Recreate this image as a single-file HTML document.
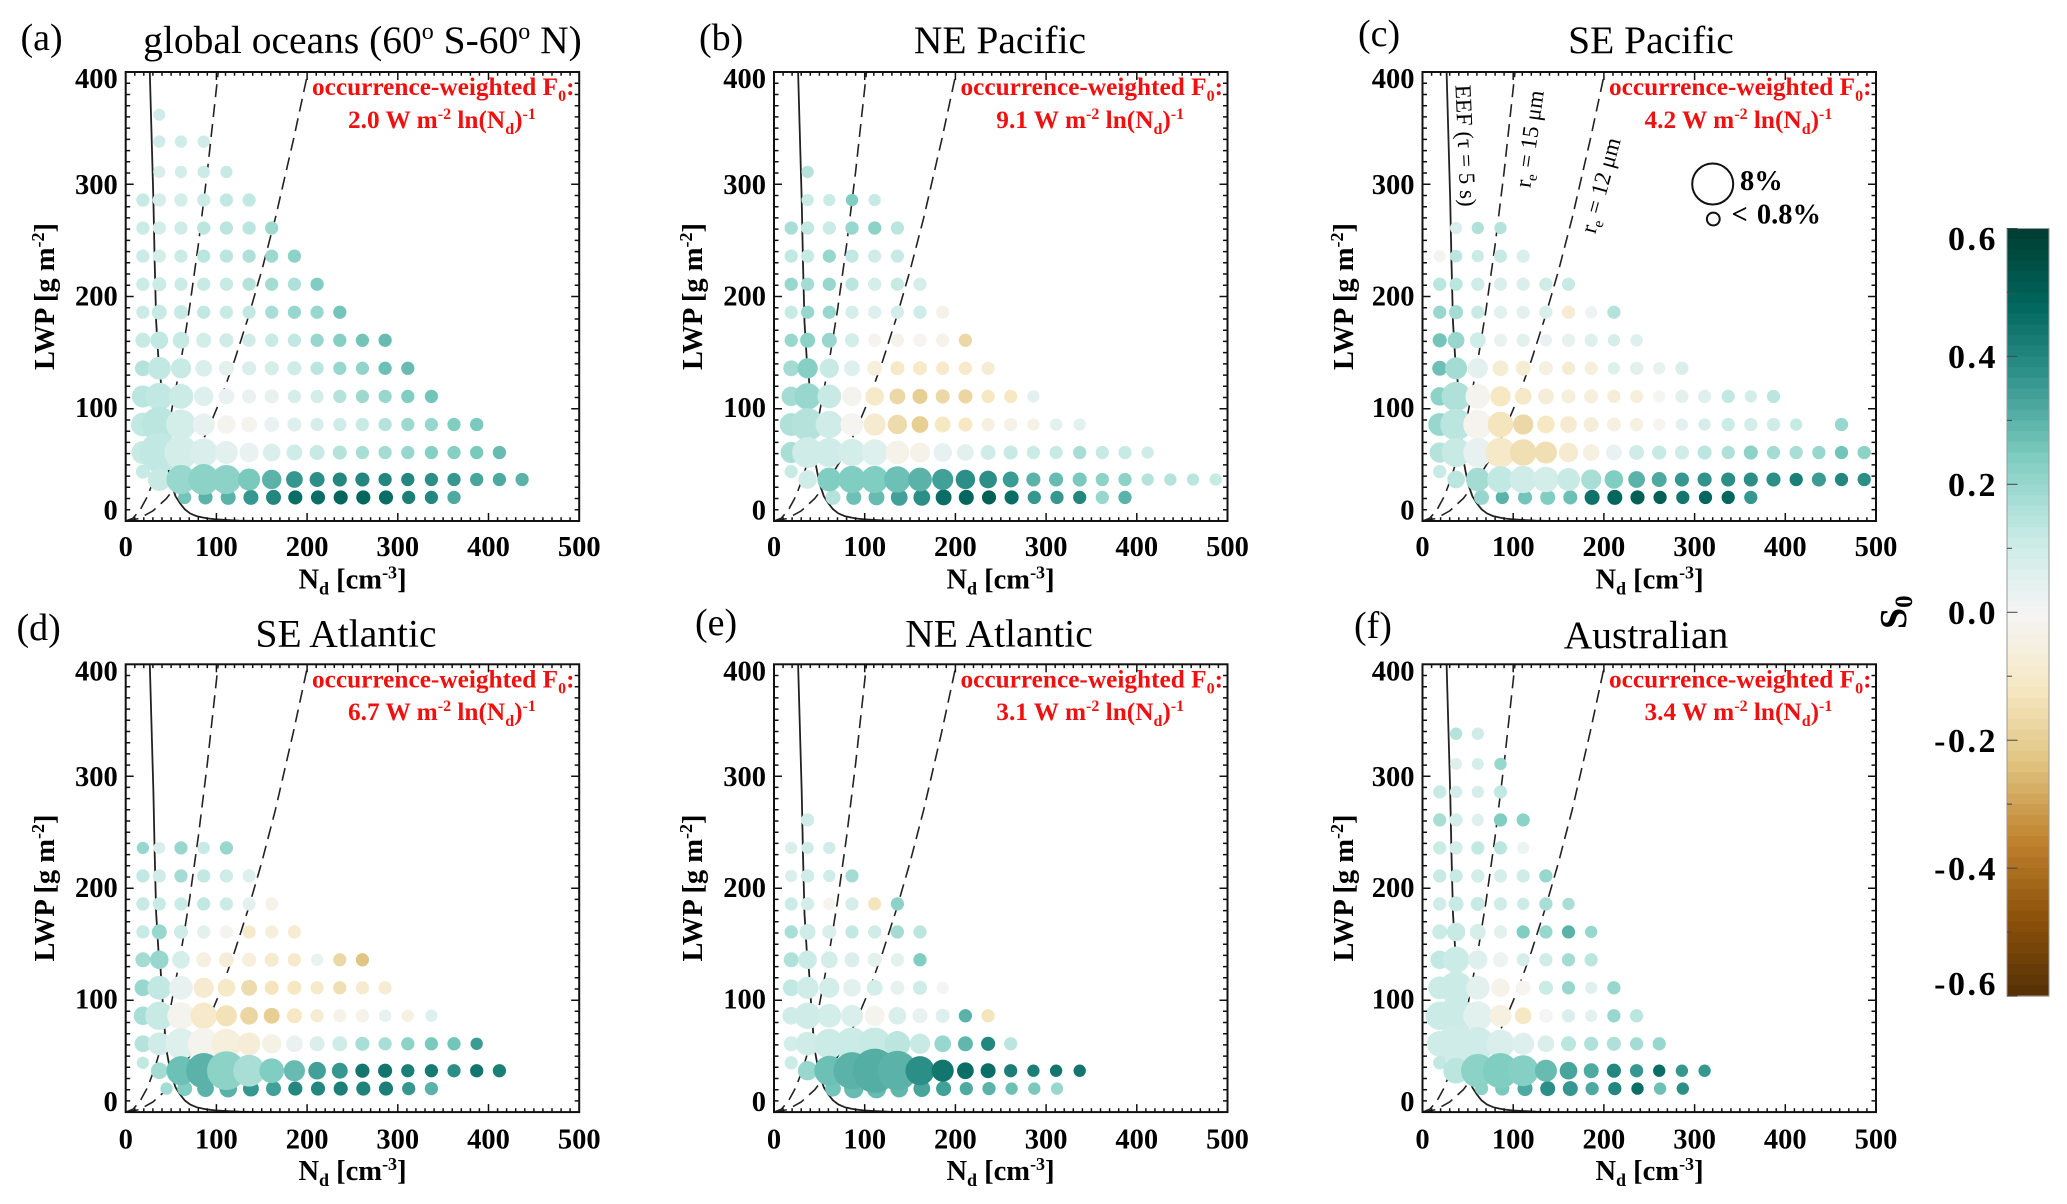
<!DOCTYPE html>
<html lang="en">
<head>
<meta charset="utf-8">
<title>S0 by LWP and Nd</title>
<style>
html,body{margin:0;padding:0;background:#fff;}
svg{display:block;}
text{font-family:"Liberation Serif","DejaVu Serif",serif;fill:#000;}
.title{font-size:39.5px;}
.letter{font-size:38px;}
.tick{font-size:28.5px;font-weight:bold;}
.axis{font-size:28.5px;font-weight:bold;}
.red{font-size:25.3px;font-weight:bold;fill:#f01010;}
.cb{font-size:34px;font-weight:bold;letter-spacing:2.5px;}
.ann{font-size:23px;}
.leg{font-size:28.5px;font-weight:bold;}
</style>
</head>
<body>
<svg id="figure" xmlns="http://www.w3.org/2000/svg" width="2067" height="1204" viewBox="0 0 2067 1204">
<rect width="2067" height="1204" fill="#fff"/>

<g>
<text class="letter" x="20.5" y="49.8">(a)</text>
<text class="letter" x="699" y="49.8">(b)</text>
<text class="letter" x="1358" y="46">(c)</text>
<text class="letter" x="16.5" y="640">(d)</text>
<text class="letter" x="695" y="635">(e)</text>
<text class="letter" x="1354" y="638">(f)</text>
</g>

<g text-anchor="middle">
<text class="title" x="362.5" y="52.8">global oceans (60<tspan dy="-14" font-size="24">o</tspan><tspan dy="14"> S-60</tspan><tspan dy="-14" font-size="24">o</tspan><tspan dy="14"> N)</tspan></text>
<text class="title" x="1000" y="52.8">NE Pacific</text>
<text class="title" x="1651" y="52.8">SE Pacific</text>
<text class="title" x="346" y="646.7">SE Atlantic</text>
<text class="title" x="999" y="646.7">NE Atlantic</text>
<text class="title" x="1646" y="647.8">Australian</text>
</g>

<g id="panel-a" transform="translate(125.7,72)"></g>
<g id="panel-b" transform="translate(774,72)"></g>
<g id="panel-c" transform="translate(1422.5,72)"></g>
<g id="panel-d" transform="translate(125.7,664.3)"></g>
<g id="panel-e" transform="translate(774,664.3)"></g>
<g id="panel-f" transform="translate(1422.5,664.3)"></g>

<g class="axis" text-anchor="middle">
<text class="axis" x="352.5" y="588.6">N<tspan dy="6" font-size="18">d</tspan><tspan dy="-6"> [cm</tspan><tspan dy="-10" font-size="18">-3</tspan><tspan dy="10">]</tspan></text>
<text class="axis" x="1000.5" y="588.6">N<tspan dy="6" font-size="18">d</tspan><tspan dy="-6"> [cm</tspan><tspan dy="-10" font-size="18">-3</tspan><tspan dy="10">]</tspan></text>
<text class="axis" x="1649.5" y="588.6">N<tspan dy="6" font-size="18">d</tspan><tspan dy="-6"> [cm</tspan><tspan dy="-10" font-size="18">-3</tspan><tspan dy="10">]</tspan></text>
<text class="axis" x="352.5" y="1179.8">N<tspan dy="6" font-size="18">d</tspan><tspan dy="-6"> [cm</tspan><tspan dy="-10" font-size="18">-3</tspan><tspan dy="10">]</tspan></text>
<text class="axis" x="1000.5" y="1179.8">N<tspan dy="6" font-size="18">d</tspan><tspan dy="-6"> [cm</tspan><tspan dy="-10" font-size="18">-3</tspan><tspan dy="10">]</tspan></text>
<text class="axis" x="1649.5" y="1179.8">N<tspan dy="6" font-size="18">d</tspan><tspan dy="-6"> [cm</tspan><tspan dy="-10" font-size="18">-3</tspan><tspan dy="10">]</tspan></text>
</g>

<g text-anchor="middle">
<text class="axis" transform="translate(54,296.5) rotate(-90)">LWP [g m<tspan dy="-10" font-size="18">-2</tspan><tspan dy="10">]</tspan></text>
<text class="axis" transform="translate(702,296.5) rotate(-90)">LWP [g m<tspan dy="-10" font-size="18">-2</tspan><tspan dy="10">]</tspan></text>
<text class="axis" transform="translate(1353,296.5) rotate(-90)">LWP [g m<tspan dy="-10" font-size="18">-2</tspan><tspan dy="10">]</tspan></text>
<text class="axis" transform="translate(54,888) rotate(-90)">LWP [g m<tspan dy="-10" font-size="18">-2</tspan><tspan dy="10">]</tspan></text>
<text class="axis" transform="translate(702,888) rotate(-90)">LWP [g m<tspan dy="-10" font-size="18">-2</tspan><tspan dy="10">]</tspan></text>
<text class="axis" transform="translate(1353,888) rotate(-90)">LWP [g m<tspan dy="-10" font-size="18">-2</tspan><tspan dy="10">]</tspan></text>
</g>

<g id="forcing">
<text class="red" x="312" y="94.9">occurrence-weighted F<tspan dy="6" font-size="16">0</tspan><tspan dy="-6">:</tspan></text>
<text class="red" x="348" y="128.2">2.0 W m<tspan dy="-9" font-size="16">-2</tspan><tspan dy="9"> ln(N</tspan><tspan dy="6" font-size="16">d</tspan><tspan dy="-6">)</tspan><tspan dy="-9" font-size="16">-1</tspan></text>
<text class="red" x="960.5" y="94.9">occurrence-weighted F<tspan dy="6" font-size="16">0</tspan><tspan dy="-6">:</tspan></text>
<text class="red" x="996.3" y="128.2">9.1 W m<tspan dy="-9" font-size="16">-2</tspan><tspan dy="9"> ln(N</tspan><tspan dy="6" font-size="16">d</tspan><tspan dy="-6">)</tspan><tspan dy="-9" font-size="16">-1</tspan></text>
<text class="red" x="1609" y="94.9">occurrence-weighted F<tspan dy="6" font-size="16">0</tspan><tspan dy="-6">:</tspan></text>
<text class="red" x="1644.5" y="128.2">4.2 W m<tspan dy="-9" font-size="16">-2</tspan><tspan dy="9"> ln(N</tspan><tspan dy="6" font-size="16">d</tspan><tspan dy="-6">)</tspan><tspan dy="-9" font-size="16">-1</tspan></text>
<text class="red" x="312" y="687.3">occurrence-weighted F<tspan dy="6" font-size="16">0</tspan><tspan dy="-6">:</tspan></text>
<text class="red" x="348" y="719.8">6.7 W m<tspan dy="-9" font-size="16">-2</tspan><tspan dy="9"> ln(N</tspan><tspan dy="6" font-size="16">d</tspan><tspan dy="-6">)</tspan><tspan dy="-9" font-size="16">-1</tspan></text>
<text class="red" x="960.5" y="687.3">occurrence-weighted F<tspan dy="6" font-size="16">0</tspan><tspan dy="-6">:</tspan></text>
<text class="red" x="996.3" y="719.8">3.1 W m<tspan dy="-9" font-size="16">-2</tspan><tspan dy="9"> ln(N</tspan><tspan dy="6" font-size="16">d</tspan><tspan dy="-6">)</tspan><tspan dy="-9" font-size="16">-1</tspan></text>
<text class="red" x="1609" y="687.3">occurrence-weighted F<tspan dy="6" font-size="16">0</tspan><tspan dy="-6">:</tspan></text>
<text class="red" x="1644.5" y="719.8">3.4 W m<tspan dy="-9" font-size="16">-2</tspan><tspan dy="9"> ln(N</tspan><tspan dy="6" font-size="16">d</tspan><tspan dy="-6">)</tspan><tspan dy="-9" font-size="16">-1</tspan></text>
</g>

<g text-anchor="middle">
<text class="ann" transform="translate(1458,146) rotate(87.5)">EEF (τ = 5 s)</text>
<text class="ann" transform="translate(1537,140) rotate(-82)">r<tspan dy="5" font-size="15">e</tspan><tspan dy="-5"> = 15 μm</tspan></text>
<text class="ann" transform="translate(1608,187.3) rotate(-74.7)">r<tspan dy="5" font-size="15">e</tspan><tspan dy="-5"> = 12 μm</tspan></text>
</g>

<g>
<circle cx="1712.7" cy="184" r="20.5" fill="none" stroke="#111" stroke-width="2"/>
<circle cx="1713.3" cy="219" r="6.4" fill="none" stroke="#111" stroke-width="2"/>
<text class="leg" x="1740" y="190">8%</text>
<text class="leg" x="1731.5" y="223.5" word-spacing="2">&lt; 0.8%</text>
</g>

<g id="colorbar"></g>
<text font-size="38" font-weight="bold" transform="translate(1906,629) rotate(-90)">S<tspan dy="6" font-size="25">0</tspan></text>
</svg>

<script>
const n = null;

const ndBins = [19,37,61,86,111,136,161,186,211,236,261,286,311,337,362,387,412,437,462,487];
const ndBinsLowestRow = [19,45,65,88,113,138,163,187,212,237,262,287,312,337,362,387];
const lwpBins = [21,37,61,86,111,136,161,186,211,236,261,286,311,338,362];
const lwpSecondRowFirstBin = 44;

const s0PanelA = [
[n,n,.26,.3,.3,.36,.4,.46,.46,.48,.48,.46,.42,.4,.32],
[.12,.12,.2,.22,.22,.25,.3,.36,.38,.4,.4,.4,.4,.38,.36,.33,.32,.3],
[.12,.13,.09,.07,.05,.03,.07,.1,.12,.15,.17,.18,.2,.23,.23,.25,.28],
[.13,.14,.09,.04,-.02,-.02,.03,.06,.08,.1,.12,.15,.19,.2,.24,.25],
[.14,.13,.11,.06,.03,.03,.04,.08,.09,.15,.19,.2,.24,.26],
[.15,.13,.12,.07,.05,.07,.08,.1,.14,.2,.21,.27,.28],
[.12,.13,.12,.09,.1,.1,.12,.13,.2,.23,.26,.28],
[.11,.12,.12,.13,.12,.13,.17,.2,.2,.26],
[.11,.11,.11,.12,.12,.15,.18,.16,.24],
[.11,.09,.11,.14,.14,.16,.19,.22],
[.11,.09,.1,.14,.14,.14,.19],
[.12,.08,.09,.11,.13,.13],
[n,.07,.09,.11,.12],
[n,.1,.1,.1],
[n,.1]
];
const occPanelA = [
[n,n,.67,.76,.86,.86,.86,.76,.76,.76,.76,.76,.67,.67,.67],
[.76,2,3.23,3.64,3.23,1.86,1.44,1.07,.86,.76,.76,.67,.67,.67,.67,.67,.67,.67],
[2,6,4.29,3.04,2,1.44,1.19,.96,.86,.76,.67,.67,.67,.67,.67,.67,.67],
[2.16,4.75,3.43,1.86,1.31,.96,.86,.76,.67,.67,.67,.67,.67,.67,.67,.67],
[1.86,2.85,2.33,1.44,.96,.76,.76,.67,.67,.67,.67,.67,.67,.67],
[.96,2,1.57,1.07,.86,.76,.76,.76,.67,.67,.67,.67,.67],
[.86,1.19,1.07,.86,.76,.67,.67,.67,.67,.67,.67,.67],
[.67,.86,.76,.67,.67,.67,.67,.67,.67,.67],
[.67,.76,.67,.67,.67,.67,.67,.67,.67],
[.67,.67,.67,.67,.67,.67,.67,.67],
[.67,.67,.67,.67,.67,.67,.67],
[.67,.67,.67,.67,.67,.67],
[n,.58,.58,.58,.58],
[n,.58,.58,.58],
[n,.55]
];

const s0PanelB = [
[n,n,.15,.27,.28,.34,.38,.46,.48,.5,.46,.36,.36,.4,.2,.3],
[.12,.1,.24,.24,.24,.27,.3,.34,.38,.38,.35,.3,.28,.25,.22,.22,.15,.15,.14,.12],
[.17,.1,.1,.09,.06,-.03,-.03,.04,.05,.1,.12,.11,.12,.17,.12,.12,.1],
[.16,.15,.1,-.01,-.09,-.16,-.2,-.12,-.12,-.05,-.04,-.04,.05,.05],
[.18,.2,.12,-.02,-.1,-.17,-.2,-.17,-.18,-.12,-.12,.05],
[.18,.23,.12,.06,-.06,-.11,-.1,-.1,-.1,-.08],
[.2,.22,.2,.09,-.02,-.03,-.01,-.03,-.17],
[.12,.2,.2,.08,.06,.09,.1,-.03],
[.2,.18,.2,.14,.08,.12,.08],
[.13,.12,.2,.13,.1,.12],
[.17,.13,.11,.2,.22,.14],
[n,.11,.11,.24,.12],
[n,.15]
];
const occPanelB = [
[n,n,.86,.86,.96,1.07,1.07,.96,.86,.76,.76,.67,.67,.67,.67,.67],
[.67,1.31,2.16,2.85,2.85,2.67,2.16,1.71,1.44,1.19,.96,.76,.76,.76,.67,.67,.58,.58,.58,.58],
[1.71,3.64,3.23,2.85,2.67,2.16,1.57,1.31,1.07,.86,.76,.67,.67,.67,.67,.67,.58],
[2,4.07,2.85,2,1.86,1.44,1.07,.96,.76,.67,.67,.58,.58,.58],
[1.44,2.67,2.16,1.44,1.31,.96,.86,.76,.76,.67,.67,.58],
[.96,1.57,1.44,.96,.86,.76,.76,.67,.67,.67],
[.67,.86,.86,.76,.67,.67,.67,.67,.67],
[.67,.67,.67,.67,.67,.67,.67,.67],
[.67,.67,.67,.67,.67,.67,.67],
[.67,.67,.67,.67,.67,.67],
[.67,.67,.67,.67,.67,.67],
[n,.58,.58,.58,.58],
[n,.58]
];

const s0PanelC = [
[n,n,.2,.3,.26,.24,.27,.45,.48,.5,.5,.44,.48,.48,.36],
[.12,.14,.18,.13,.1,.09,.12,.17,.24,.3,.32,.36,.37,.38,.38,.38,.42,.35,.4,.38],
[.15,.12,.04,-.11,-.15,-.15,-.09,-.05,.03,.1,.12,.1,.14,.16,.22,.18,.17,.2,.26,.22],
[.2,.14,-.02,-.13,-.17,-.12,-.09,-.07,-.05,-.05,-.01,.05,.08,.11,.09,.1,.12,n,.2],
[.22,.16,-.02,-.12,-.11,-.07,-.06,-.06,-.07,-.06,-.01,.05,.06,.13,.09,.14],
[.27,.18,.05,-.08,-.08,-.05,-.08,-.06,.06,.05,.04,.07],
[.26,.2,.1,.03,.05,.03,.04,.06,.08,.06],
[.2,.18,.12,.05,.05,.07,-.08,.02,.15],
[.14,.14,.1,.07,.07,.1,.12],
[-.02,.14,.11,.12,.07],
[n,.07,.16,.15]
];
const occPanelC = [
[n,n,.86,.67,.76,.86,.76,.86,.86,.76,.67,.67,.67,.67,.67],
[.67,1.19,2.16,2.67,2.85,2.5,2,1.57,1.31,1.07,.86,.76,.76,.76,.76,.76,.67,.76,.67,.67],
[1.57,3.23,3.23,3.43,2.67,1.86,1.44,1.07,.96,.86,.76,.76,.76,.67,.76,.67,.67,.67,.67,.67],
[2,3.85,3.23,2.5,1.57,1.19,1.07,.86,.76,.67,.58,.58,.58,.67,.67,.67,.58,n,.67],
[1.31,3.23,2.33,1.57,1.07,.96,.76,.76,.67,.67,.58,.67,.67,.67,.58,.67],
[.86,1.86,1.57,.96,.86,.76,.67,.67,.58,.67,.58,.67],
[.76,1.07,.96,.67,.67,.58,.67,.67,.58,.58],
[.67,.76,.67,.67,.67,.67,.67,.58,.67],
[.67,.67,.67,.67,.67,.67,.67],
[.58,.58,.58,.67,.67],
[n,.58,.58,.58]
];

const s0PanelD = [
[n,.18,.24,.3,.3,.36,.34,.4,.4,.42,.41,.42,.36,.3],
[.13,.18,.27,.3,.22,.17,.24,.28,.34,.36,.44,.44,.42,.43,.38,.44,.42],
[.15,.1,.06,-.02,-.06,-.07,-.04,.03,.07,.1,.17,.17,.22,.25,.26,.35],
[.17,.12,-.02,-.1,-.14,-.18,-.2,-.12,-.08,-.03,-.03,.04,-.05,.06],
[.2,.13,.04,-.09,-.11,-.16,-.13,-.12,-.1,-.15,-.09,-.08],
[.18,.2,.08,-.05,-.07,-.06,-.09,-.1,.03,-.17,-.23],
[.12,.2,.1,.05,-.02,-.1,-.06,-.08],
[.12,.12,.11,.13,.11,.05,-.03],
[.13,.1,.18,.13,.1,.06],
[.2,.07,.2,.12,.2]
];
const occPanelD = [
[n,.58,.86,1.07,1.19,.96,.86,.76,.76,.76,.76,.76,.67,.67],
[.58,1.07,3.23,4.75,5.75,3.85,2.33,1.71,1.19,.96,.76,.76,.67,.67,.67,.67,.67],
[1.07,2,3.64,3.85,3.43,2,1.44,1.07,.86,.86,.76,.67,.67,.67,.67,.58],
[1.31,3.04,2.85,2.67,1.71,1.19,.96,.86,.67,.67,.67,.58,.58,.58],
[1.07,2.16,2.16,1.57,1.19,.96,.76,.76,.67,.67,.67,.67],
[.86,1.31,1.19,.86,.86,.76,.76,.67,.58,.67,.67],
[.67,.86,.76,.67,.67,.67,.67,.67],
[.67,.67,.67,.67,.67,.67,.67],
[.67,.67,.67,.67,.67,.67],
[.58,.55,.67,.58,.67]
];

const s0PanelE = [
[n,n,.26,.28,.28,.29,.33,.34,.32,.3,.27,.25,.2],
[.11,.2,.27,.3,.31,.3,.38,.44,.46,.46,.42,.42,.44,.44],
[.09,.1,.11,.11,.12,.14,.12,.2,.29,.4,.14],
[.1,.1,.09,.07,-.02,.07,.04,.06,.3,-.13],
[.13,.1,.09,.05,.08,.04,.1,-.01],
[.16,.11,.09,.07,.05,.05,.24],
[.17,.1,.07,.13,.1,.18,.14],
[.11,.09,-.01,.08,-.13,.22],
[.07,.1,.1,.18],
[.07,.1,.1],
[n,.1]
];
const occPanelE = [
[n,n,.96,1.44,1.44,1.19,1.07,.86,.67,.67,.58,.58,.58],
[.67,1.44,3.43,5.24,7.42,6,3.23,1.86,1.07,.86,.67,.58,.58,.58],
[.86,2.16,3.43,4.07,4.07,2.5,1.57,1.07,.86,.76,.67],
[1.19,2.67,2.16,1.86,1.57,1.19,.86,.76,.67,.67],
[1.07,1.86,1.57,1.19,.96,.76,.76,.58],
[.86,1.31,1.07,.86,.76,.67,.67],
[.67,.96,.76,.67,.67,.67,.67],
[.67,.67,.58,.67,.67,.67],
[.58,.67,.58,.67],
[.58,.58,.58],
[n,.67]
];

const s0PanelF = [
[n,n,.22,.25,.32,.38,.36,.32,.4,.46,.27,.38],
[.13,.14,.22,.24,.23,.28,.33,.32,.4,.36,.46,.36,.36],
[.1,.1,.1,.07,.06,.07,.14,.16,.16,.18,.2],
[.11,.11,.05,-.05,-.12,0,.07,.05,.2,.14],
[.11,.11,.05,-.03,-.01,.11,.2,.06,.2],
[.13,.11,.06,.02,.08,.1,.18,.14],
[.11,.12,.08,.05,.24,.2,.3,.2],
[.1,.12,.12,.1,.11,.17,.17],
[.12,.12,.09,.08,.1,.2],
[.11,.09,.13,.14,.02],
[.17,.08,.06,.24,.22],
[.12,.09,.08,.13],
[n,.06,.08,.2],
[n,.15,.1]
];
const occPanelF = [
[n,n,.67,.76,.86,.86,.86,.67,.67,.58,.58,.58],
[.67,2.5,4.29,4.75,3.64,1.86,1.19,.86,.76,.67,.58,.58,.58],
[2.5,5.75,4.29,3.04,1.86,1.07,.86,.76,.76,.67,.67],
[3.04,5.24,3.23,1.86,1.07,.76,.67,.58,.67,.67],
[2,4.07,2.16,1.31,.86,.76,.67,.58,.67],
[1.31,2.67,1.44,.86,.67,.67,.67,.67],
[.86,1.31,.96,.67,.67,.67,.67,.58],
[.67,.86,.76,.67,.58,.67,.58],
[.67,.67,.67,.67,.67,.67],
[.67,.67,.67,.67,.58],
[.67,.67,.58,.67,.67],
[.67,.58,.58,.67],
[n,.55,.55,.58],
[n,.58,.58]
];

const s0ByPanel = {a:s0PanelA,b:s0PanelB,c:s0PanelC,d:s0PanelD,e:s0PanelE,f:s0PanelF};
const occByPanel = {a:occPanelA,b:occPanelB,c:occPanelC,d:occPanelD,e:occPanelE,f:occPanelF};

const eefNd  = [26.6,29,30.5,32,33.6,36,38,41,44.5,47.5,50.7,55,60,65,71,78,85.6,92,99,110,125,145];
const eefLwp = [400,330,286,230,177,145,133,95,57,44,32,22,15.7,10.5,6.8,4.4,3,2.1,1.5,1,.4,0];
const re15Nd  = [0,8,16,24,32,40,50,60,70,80,90,102];
const re15Lwp = [0,2.5,10,22,39,61,96,138,188,246,311,400];
const re12Nd  = [0,15,30,45,60,75,90,105,120,135,150,165,185,201];
const re12Lwp = [0,2.2,9,20,36,56,80,109,143,181,223,270,340,400];

const xTickValues = [0,100,200,300,400,500];
const yTickValues = [0,100,200,300,400];
const xTickLabels = ['0','100','200','300','400','500'];
const yTickLabels = ['0','100','200','300','400'];

const cbTickValues = [.6,.4,.2,0,-.2,-.4,-.6];
const cbTickLabels = ['0.6','0.4','0.2','0.0','-0.2','-0.4','-0.6'];
const colorStopValues = [-.6,-.48,-.36,-.24,-.12,0,.12,.24,.36,.48,.6];
const colorStopHex = ['#543005','#8c510a','#bf812d','#dfc27d','#f6e8c3','#f5f5f5','#c7eae5','#80cdc1','#35978f','#01665e','#003c30'];

const NS = 'http://www.w3.org/2000/svg';
const panelIds = ['a','b','c','d','e','f'];
const panelW = 453.5;
const panelHeights = {a:449,b:449,c:449,d:447.8,e:447.8,f:447.8};
const yLabelNudge = {0:-1.3,100:8.3,200:8.9,300:9.75,400:16};
const occToDiameter = 16.2;

function hexToRgb(h){return [1,3,5].map(function(i){return parseInt(h.substr(i,2),16);});}
function colorFor(s){
  const vals = colorStopValues;
  if(s<=vals[0]) return colorStopHex[0];
  for(let i=1;i<vals.length;i++){
    if(s<=vals[i]){
      const t=(s-vals[i-1])/(vals[i]-vals[i-1]);
      const a=hexToRgb(colorStopHex[i-1]),b=hexToRgb(colorStopHex[i]);
      return 'rgb('+a.map(function(v,k){return Math.round(v+(b[k]-v)*t);}).join(',')+')';
    }
  }
  return colorStopHex[colorStopHex.length-1];
}
function mk(tag,attrs,parent){
  const e=document.createElementNS(NS,tag);
  Object.keys(attrs).forEach(function(k){e.setAttribute(k,attrs[k]);});
  parent.appendChild(e);
  return e;
}

panelIds.forEach(function(id){
  const g=document.getElementById('panel-'+id);
  const h=panelHeights[id];
  const xs=function(v){return v/500*panelW;};
  const ys=function(v){return h*(1-v/400);};
  const linePts=function(xa,ya){return xa.map(function(v,i){return xs(v).toFixed(1)+','+ys(ya[i]).toFixed(1);}).join(' ');};

  const eef=mk('polyline',{points:linePts(eefNd,eefLwp),fill:'none',stroke:'#222','stroke-width':1.8},g);
  
  
  const re15=mk('polyline',{points:linePts(re15Nd,re15Lwp),fill:'none',stroke:'#222','stroke-width':1.6,'stroke-dasharray':'13 7'},g);
  
  
  const re12=mk('polyline',{points:linePts(re12Nd,re12Lwp),fill:'none',stroke:'#222','stroke-width':1.6,'stroke-dasharray':'13 7'},g);
  
  

  const s0=s0ByPanel[id], occ=occByPanel[id];
  const order=[];
  for(let r=s0.length-1;r>=2;r--) order.push(r);
  order.push(0,1);
  order.forEach(function(r){
    s0[r].forEach(function(v,c){
      if(v===null||occ[r][c]===null) return;
      const nd=(r===0)?ndBinsLowestRow[c]:ndBins[c];
      const lwp=(r===1&&c===0)?lwpSecondRowFirstBin:lwpBins[r];
      const dot=mk('circle',{cx:xs(nd).toFixed(1),cy:ys(lwp).toFixed(1),r:(occToDiameter*Math.sqrt(occ[r][c])/2).toFixed(2),fill:colorFor(v)},g);
      
      
    });
  });

  let tickPath='';
  for(let t=0;t<=500;t+=10){
    const len=t%100===0?8:3.8;
    const x=xs(t).toFixed(1);
    tickPath+='M'+x+' '+h+'v'+(-len)+'M'+x+' 0v'+len;
  }
  for(let t=0;t<=400;t+=10){
    const len=t%100===0?8:4.5;
    const y=ys(t).toFixed(1);
    tickPath+='M0 '+y+'h'+len+'M'+panelW+' '+y+'h'+(-len);
  }
  const ticks=mk('path',{d:tickPath,fill:'none',stroke:'#111','stroke-width':1.5},g);
  
  

  const frame=mk('rect',{x:0,y:0,width:panelW,height:h,fill:'none',stroke:'#111','stroke-width':2},g);
  
  

  xTickValues.forEach(function(v,i){
    const t=mk('text',{'class':'tick',x:xs(v).toFixed(1),y:484,'text-anchor':'middle'},g);
    t.textContent=xTickLabels[i];
    
    
  });
  yTickValues.forEach(function(v,i){
    const t=mk('text',{'class':'tick',x:-8,y:(ys(v)+yLabelNudge[v]).toFixed(1),'text-anchor':'end'},g);
    t.textContent=yTickLabels[i];
    
    
  });
});

(function(){
  const cb=document.getElementById('colorbar');
  const x0=2007,w=42,y0=228.5,y1=996;
  const ys=function(v){return y0+(0.6-v)/1.2*(y1-y0);};
  const bands=72;
  for(let i=0;i<bands;i++){
    const hi=0.6-1.2*i/bands, lo=0.6-1.2*(i+1)/bands;
    const b=mk('rect',{x:x0,y:ys(hi).toFixed(2),width:w,height:(ys(lo)-ys(hi)+.6).toFixed(2),fill:colorFor((hi+lo)/2)},cb);
    
    
  }
  const border=mk('rect',{x:x0,y:y0,width:w,height:y1-y0,fill:'none',stroke:'#999','stroke-width':1},cb);
  
  
  for(let k=-6;k<=6;k++){
    const major=k%2===0;
    const tk=mk('line',{x1:x0,x2:x0+(major?10.5:5),y1:ys(k/10).toFixed(1),y2:ys(k/10).toFixed(1),stroke:'#444','stroke-width':1},cb);
    
    
  }
  const labelY={'0.6':250,'0.4':368,'0.2':496,'0.0':624,'-0.2':752,'-0.4':880,'-0.6':995};
  cbTickValues.forEach(function(v,i){
    const t=mk('text',{'class':'cb',x:1998,y:labelY[cbTickLabels[i]],'text-anchor':'end'},cb);
    t.textContent=cbTickLabels[i];
    
    
  });
})();
</script>
</body>
</html>
